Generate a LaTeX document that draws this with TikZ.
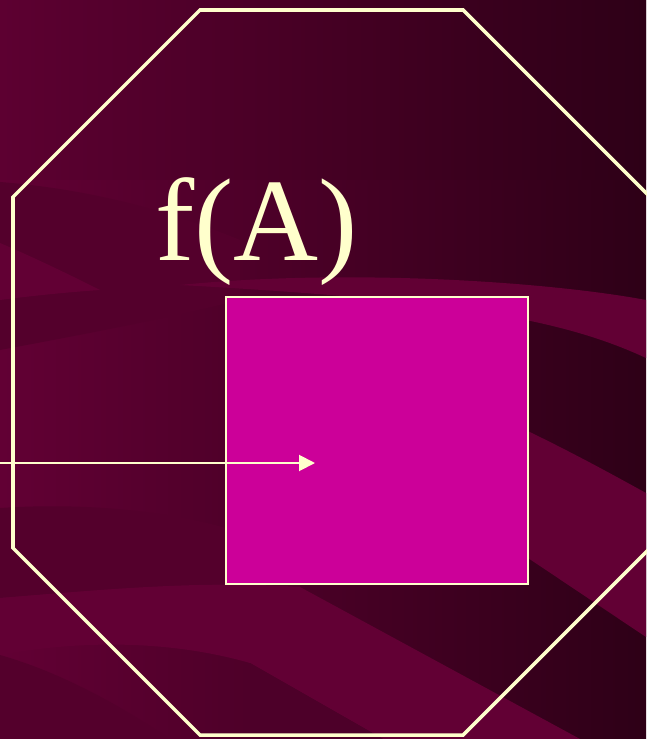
\documentclass[tikz,border=0pt]{standalone}
\usepackage{fontspec}
\setmainfont{Liberation Serif}
\usetikzlibrary{arrows.meta,positioning,calc}
\definecolor{Cream}{HTML}{FFFFCC}
\definecolor{Magenta}{HTML}{CC0099}
\definecolor{WineLight}{HTML}{620034}
\definecolor{WineMid}{HTML}{54002C}
\definecolor{WineDark}{HTML}{2E0017}
\begin{document}
\begin{tikzpicture}[x=0.02cm,y=-0.02cm,
  frame/.style={draw=Cream,line width=2pt,line join=miter},
  setbox/.style={draw=Cream,fill=Magenta,line width=0.9pt,inner sep=0pt,minimum width=6.04cm,minimum height=5.74cm},
  mapto/.style={draw=Cream,line width=1.1pt,-{Triangle[length=0.32cm,width=0.32cm]}}]
\useasboundingbox (0,0) rectangle (646,739);
\begin{scope}
\clip (0,0) rectangle (646,739);
\shade[left color=WineLight,right color=WineDark] (0,0) rectangle (646,739);
\shade[left color=WineLight!92!black,right color=WineDark,opacity=0.6] (0,0) rectangle (646,180);
\fill[WineMid] (0,182) .. controls (100,190) and (180,215) .. (240,240) -- (240,300) .. controls (160,320) and (80,335) .. (0,350) -- cycle;
\fill[WineLight] (0,243) .. controls (40,260) and (80,280) .. (100,290) .. controls (70,292) and (30,296) .. (0,300) -- cycle;
\fill[WineLight] (180,285) .. controls (350,268) and (550,282) .. (646,300) -- (646,358) .. controls (560,318) and (450,300) .. (180,285) -- cycle;
\fill[WineLight] (240,330) .. controls (420,370) and (550,440) .. (646,493) -- (646,637) -- (528,558) .. controls (420,500) and (330,480) .. (240,470) -- cycle;
\fill[WineMid] (0,508) .. controls (120,500) and (240,520) .. (300,560) -- (300,587) .. controls (200,580) and (100,590) .. (0,598) -- cycle;
\fill[WineLight] (0,598) .. controls (100,590) and (200,580) .. (300,587) -- (580,739) -- (383,739) -- (250,663) .. controls (170,640) and (80,640) .. (0,655) -- cycle;
\fill[WineMid] (0,655) .. controls (60,672) and (120,705) .. (170,739) -- (0,739) -- cycle;
\fill[WineMid!92!black] (250,663) -- (383,739) -- (250,739) -- cycle;
\end{scope}
\draw[frame] (200,10) -- (463,10) -- (650,197) -- (650,548) -- (463,735) -- (200,735) -- (13,548) -- (13,197) -- cycle;
\node[setbox] (fimage) at (377,440.5) {};
\node[anchor=base west,inner sep=0pt,text=Cream,font=\fontsize{67}{70}\selectfont] (fAlabel) at (155,261) {f(A)};
\coordinate (arrowtail) at (0,463);
\coordinate (arrowtip) at (315,463);
\draw[mapto] (arrowtail) -- (arrowtip);
\end{tikzpicture}
\end{document}
